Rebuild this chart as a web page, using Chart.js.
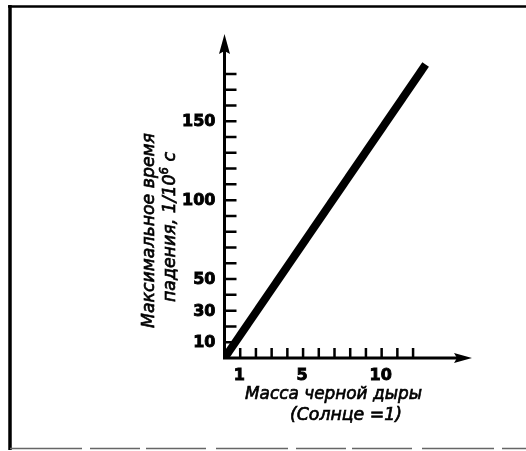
<!DOCTYPE html>
<html>
<head>
<meta charset="utf-8">
<script src="https://cdn.jsdelivr.net/npm/chart.js@4/dist/chart.umd.min.js"></script>
<style>
  html, body { margin: 0; padding: 0; background: #fff; }
  #wrap { width: 526px; height: 451px; }
</style>
</head>
<body>
<div id="wrap"><canvas id="myChart" width="526" height="451"></canvas></div>
<script>
// mass of the black hole (Sun = 1) and the fall time, 1/10^6 s
const mass = [0, 12.8];
const fallTime = [0, 186];

const massTicks = [1, 2, 3, 4, 5, 6, 7, 8, 9, 10, 11, 12];
const timeTicks = [10, 20, 30, 40, 50, 60, 70, 80, 90, 100, 110, 120, 130, 140, 150, 160, 170, 180];
const massLabels = [1, 5, 10];
const timeLabels = [10, 30, 50, 100, 150];

const xTitle = ['Масса черной дыры', '(Солнце =1)'];
const yTitle = ['Максимальное время', 'падения, 1/10', '6', ' с'];

const tickFont = 'bold 16px "DejaVu Sans"';
const titleFont = 'oblique 18px "DejaVu Sans"';
const supFont = 'oblique 12px "DejaVu Sans"';

// draws a row of text parts squeezed or stretched to a given width
function fittedText(ctx, parts, cx, baseline, width, angle) {
    let total = 0;
    parts.forEach(p => { ctx.font = p.font; p.w = ctx.measureText(p.text).width; total += p.w; });
    ctx.save();
    ctx.translate(cx, baseline);
    ctx.rotate(angle);
    ctx.scale(width / total, 1);
    ctx.textAlign = 'left';
    ctx.textBaseline = 'alphabetic';
    ctx.lineWidth = 0.7;
    let x = -total / 2;
    parts.forEach(p => {
        ctx.font = p.font;
        ctx.fillText(p.text, x, p.dy || 0);
        ctx.strokeText(p.text, x, p.dy || 0);
        x += p.w;
    });
    ctx.restore();
}

const axesPlugin = {
    id: 'bookAxes',
    afterDatasetsDraw(chart) {
        const ctx = chart.ctx;
        const xs = chart.scales.x, ys = chart.scales.y;
        const area = chart.chartArea;
        const x0 = xs.getPixelForValue(0);
        const y0 = ys.getPixelForValue(0);

        ctx.save();
        ctx.fillStyle = '#000';
        ctx.strokeStyle = '#000';

        // frame around the figure
        ctx.lineWidth = 2.5;
        ctx.beginPath(); ctx.moveTo(8, 6.5); ctx.lineTo(526, 6.5); ctx.stroke();
        ctx.lineWidth = 3.5;
        ctx.beginPath(); ctx.moveTo(10, 5); ctx.lineTo(10, 450); ctx.stroke();
        ctx.lineWidth = 1.5;
        ctx.strokeStyle = '#666';
        ctx.setLineDash([72, 8, 50, 6, 60, 10]);
        ctx.beginPath(); ctx.moveTo(10, 448.5); ctx.lineTo(526, 448.5); ctx.stroke();
        ctx.setLineDash([]);
        ctx.strokeStyle = '#000';

        // axes with arrows
        ctx.lineWidth = 3;
        ctx.beginPath();
        ctx.moveTo(x0, y0 + 1.5); ctx.lineTo(x0, area.top + 14);
        ctx.moveTo(x0 - 1.5, y0); ctx.lineTo(area.right - 14, y0);
        ctx.stroke();
        ctx.beginPath();
        ctx.moveTo(x0, area.top - 2);
        ctx.lineTo(x0 - 5.5, area.top + 18);
        ctx.lineTo(x0, area.top + 15);
        ctx.lineTo(x0 + 5.5, area.top + 18);
        ctx.closePath(); ctx.fill();
        ctx.beginPath();
        ctx.moveTo(area.right, y0);
        ctx.lineTo(area.right - 18, y0 - 5);
        ctx.lineTo(area.right - 15, y0);
        ctx.lineTo(area.right - 18, y0 + 5);
        ctx.closePath(); ctx.fill();

        // ticks point inward
        ctx.lineWidth = 2.5;
        ctx.beginPath();
        timeTicks.forEach(v => {
            const y = ys.getPixelForValue(v);
            ctx.moveTo(x0, y); ctx.lineTo(x0 + 12, y);
        });
        massTicks.forEach(v => {
            const x = xs.getPixelForValue(v);
            ctx.moveTo(x, y0); ctx.lineTo(x, y0 - 10);
        });
        ctx.stroke();

        // tick labels, thickened like heavy print
        ctx.font = tickFont;
        ctx.lineWidth = 0.9;
        ctx.textAlign = 'right';
        ctx.textBaseline = 'middle';
        timeLabels.forEach(v => {
            const y = ys.getPixelForValue(v) + 1;
            ctx.fillText(String(v), x0 - 9, y);
            ctx.strokeText(String(v), x0 - 9, y);
        });
        ctx.textAlign = 'center';
        ctx.textBaseline = 'top';
        massLabels.forEach(v => {
            const x = xs.getPixelForValue(v) - 1;
            ctx.fillText(String(v), x, y0 + 10);
            ctx.strokeText(String(v), x, y0 + 10);
        });

        // axis titles
        fittedText(ctx, [{ text: xTitle[0], font: titleFont }], 333.5, 399, 177, 0);
        fittedText(ctx, [{ text: xTitle[1], font: titleFont }], 346, 420, 112, 0);
        fittedText(ctx, [{ text: yTitle[0], font: titleFont }], 154, 230.5, 195, -Math.PI / 2);
        fittedText(ctx, [
            { text: yTitle[1], font: titleFont },
            { text: yTitle[2], font: supFont, dy: -7 },
            { text: yTitle[3], font: titleFont }
        ], 175, 227, 150, -Math.PI / 2);

        ctx.restore();
    }
};

const chart = new Chart(document.getElementById('myChart').getContext('2d'), {
    type: 'line',
    data: {
        datasets: [{
            data: mass.map((m, i) => ({ x: m, y: fallTime[i] })),
            borderColor: '#000',
            borderWidth: 8,
            borderCapStyle: 'butt',
            pointRadius: 0,
            tension: 0,
            clip: 0
        }]
    },
    options: {
        responsive: false,
        animation: false,
        events: [],
        layout: { padding: { left: 224.5, right: 54, top: 36, bottom: 93 } },
        plugins: { legend: { display: false }, tooltip: { enabled: false } },
        scales: {
            x: { type: 'linear', min: 0, max: 15.75, display: false },
            y: { type: 'linear', min: 0, max: 204, display: false }
        }
    },
    plugins: [axesPlugin]
});
</script>
</body>
</html>
